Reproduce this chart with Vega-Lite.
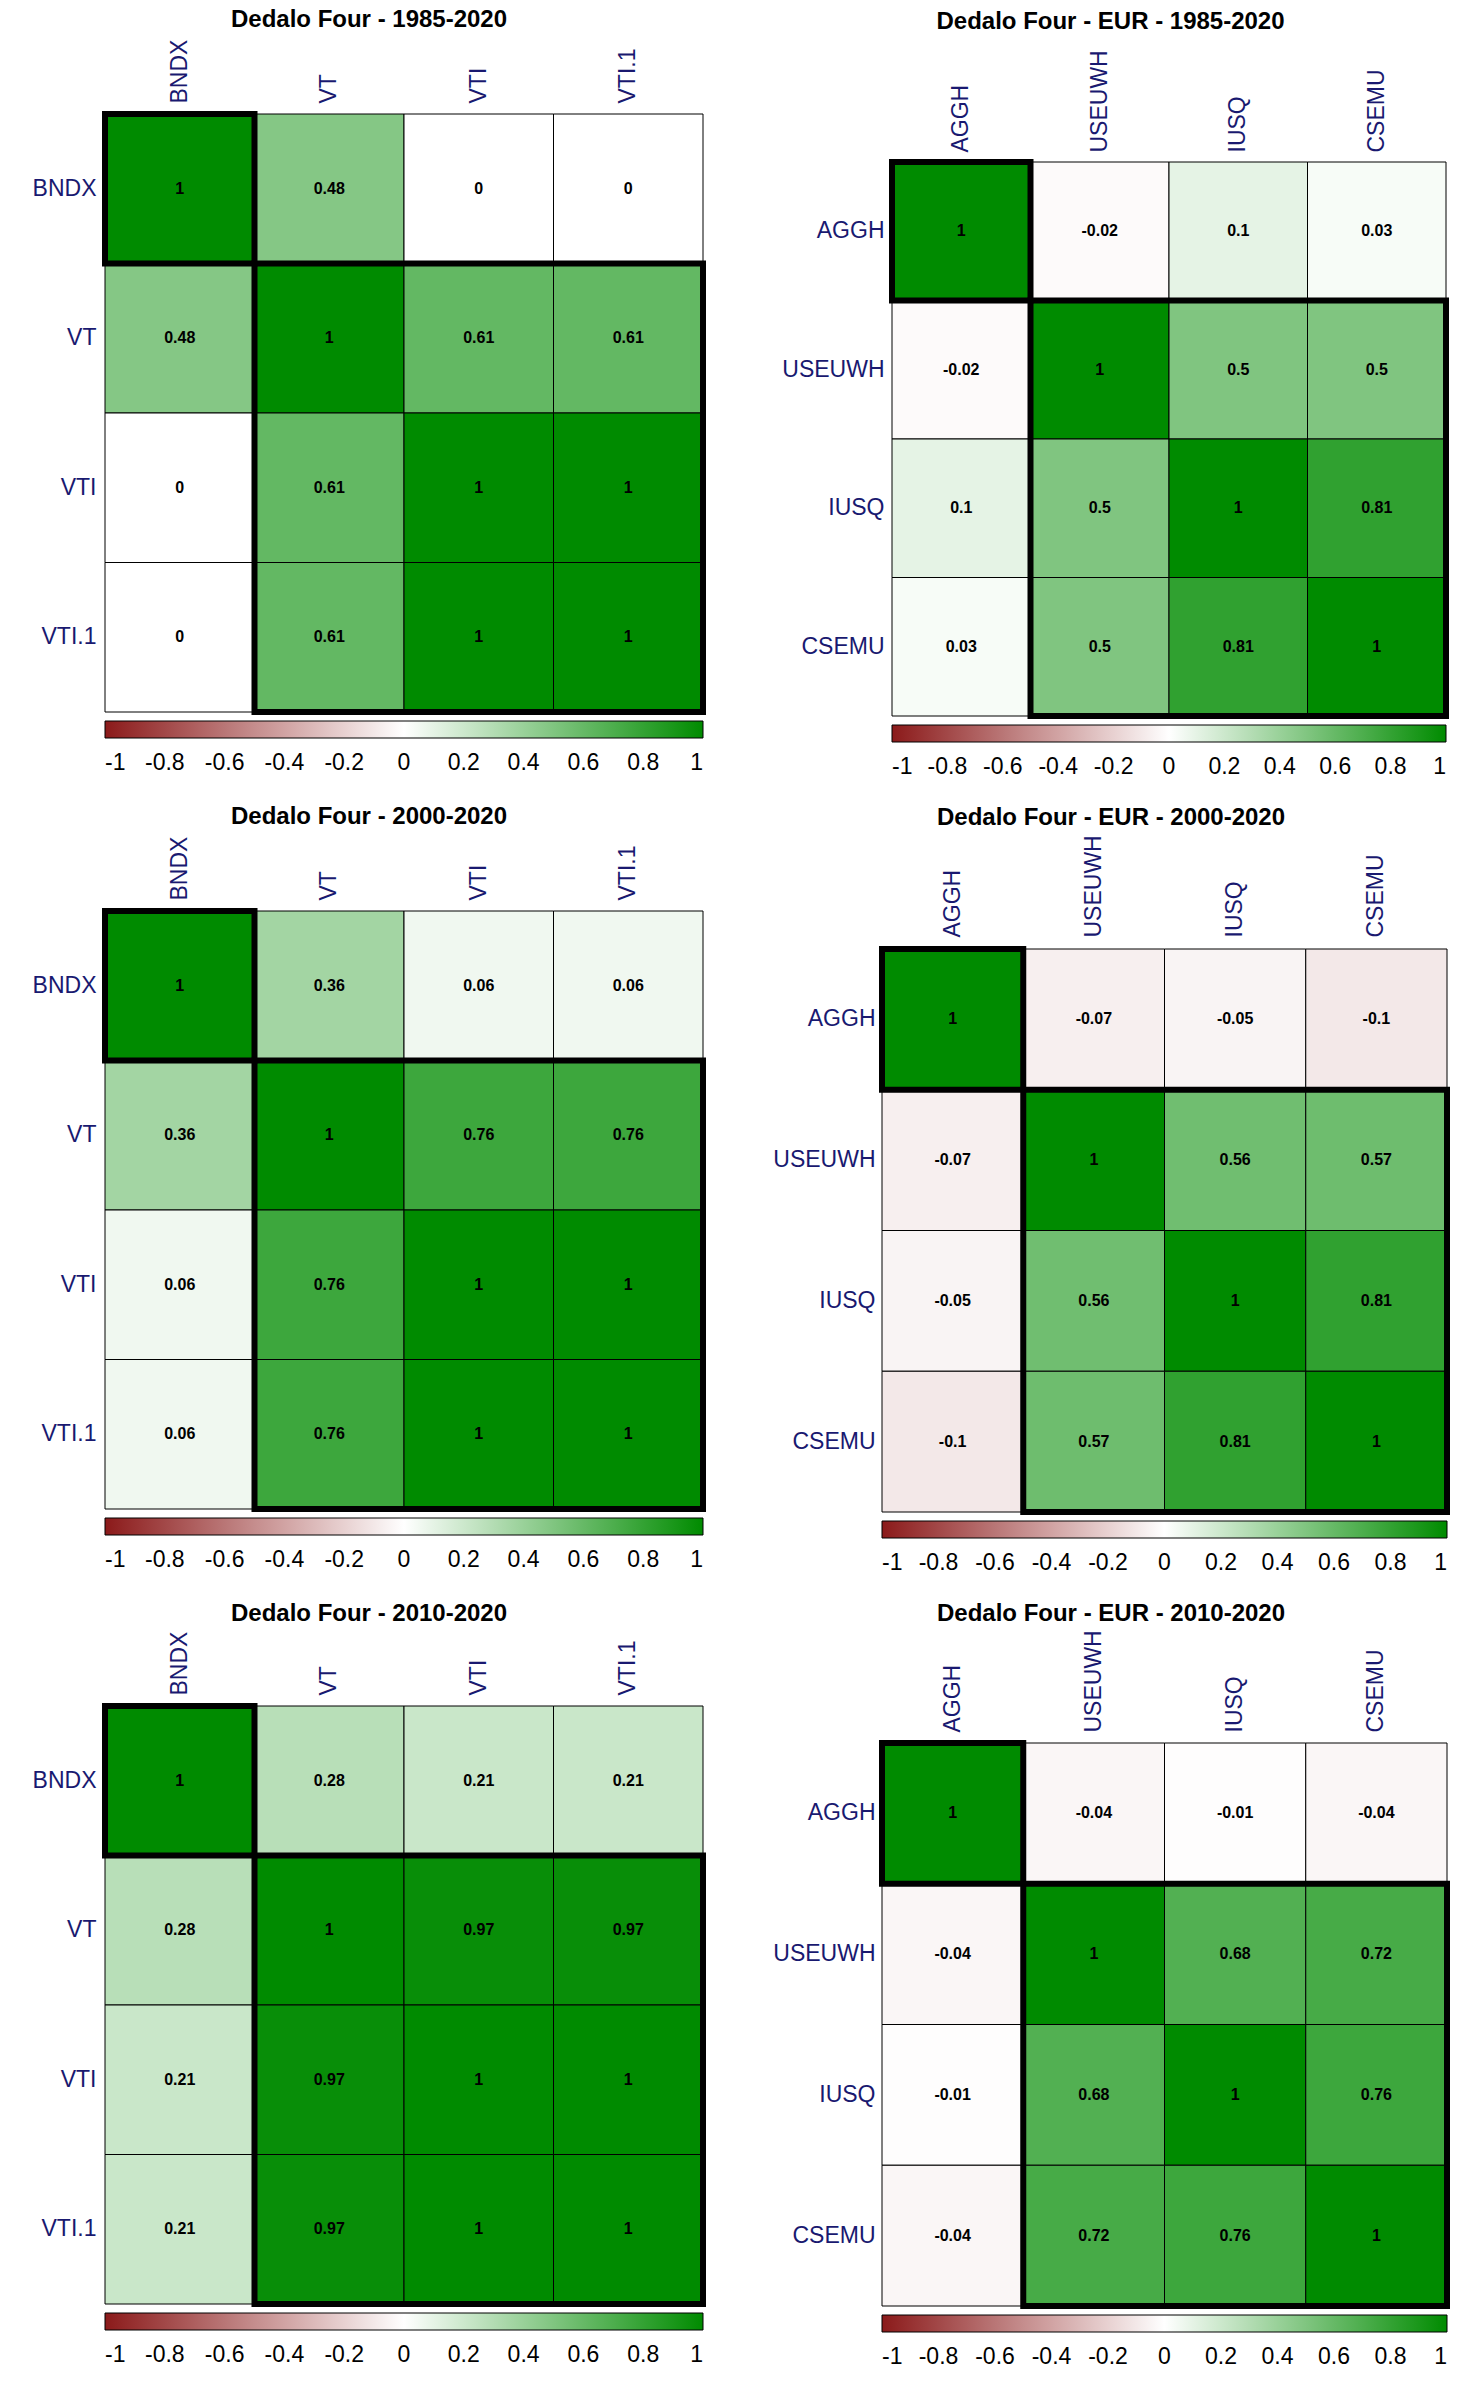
{
  "$schema": "https://vega.github.io/schema/vega-lite/v6.json",
  "padding": {"left": 32, "top": -23, "right": 5, "bottom": 5},
  "background": "white",
  "datasets": {
    "p1": [
      {"r": "BNDX", "c": "BNDX", "v": 1}, {"r": "BNDX", "c": "VT", "v": 0.48}, {"r": "BNDX", "c": "VTI", "v": 0}, {"r": "BNDX", "c": "VTI.1", "v": 0},
      {"r": "VT", "c": "BNDX", "v": 0.48}, {"r": "VT", "c": "VT", "v": 1}, {"r": "VT", "c": "VTI", "v": 0.61}, {"r": "VT", "c": "VTI.1", "v": 0.61},
      {"r": "VTI", "c": "BNDX", "v": 0}, {"r": "VTI", "c": "VT", "v": 0.61}, {"r": "VTI", "c": "VTI", "v": 1}, {"r": "VTI", "c": "VTI.1", "v": 1},
      {"r": "VTI.1", "c": "BNDX", "v": 0}, {"r": "VTI.1", "c": "VT", "v": 0.61}, {"r": "VTI.1", "c": "VTI", "v": 1}, {"r": "VTI.1", "c": "VTI.1", "v": 1}
    ],
    "p2": [
      {"r": "AGGH", "c": "AGGH", "v": 1}, {"r": "AGGH", "c": "USEUWH", "v": -0.02}, {"r": "AGGH", "c": "IUSQ", "v": 0.1}, {"r": "AGGH", "c": "CSEMU", "v": 0.03},
      {"r": "USEUWH", "c": "AGGH", "v": -0.02}, {"r": "USEUWH", "c": "USEUWH", "v": 1}, {"r": "USEUWH", "c": "IUSQ", "v": 0.5}, {"r": "USEUWH", "c": "CSEMU", "v": 0.5},
      {"r": "IUSQ", "c": "AGGH", "v": 0.1}, {"r": "IUSQ", "c": "USEUWH", "v": 0.5}, {"r": "IUSQ", "c": "IUSQ", "v": 1}, {"r": "IUSQ", "c": "CSEMU", "v": 0.81},
      {"r": "CSEMU", "c": "AGGH", "v": 0.03}, {"r": "CSEMU", "c": "USEUWH", "v": 0.5}, {"r": "CSEMU", "c": "IUSQ", "v": 0.81}, {"r": "CSEMU", "c": "CSEMU", "v": 1}
    ],
    "p3": [
      {"r": "BNDX", "c": "BNDX", "v": 1}, {"r": "BNDX", "c": "VT", "v": 0.36}, {"r": "BNDX", "c": "VTI", "v": 0.06}, {"r": "BNDX", "c": "VTI.1", "v": 0.06},
      {"r": "VT", "c": "BNDX", "v": 0.36}, {"r": "VT", "c": "VT", "v": 1}, {"r": "VT", "c": "VTI", "v": 0.76}, {"r": "VT", "c": "VTI.1", "v": 0.76},
      {"r": "VTI", "c": "BNDX", "v": 0.06}, {"r": "VTI", "c": "VT", "v": 0.76}, {"r": "VTI", "c": "VTI", "v": 1}, {"r": "VTI", "c": "VTI.1", "v": 1},
      {"r": "VTI.1", "c": "BNDX", "v": 0.06}, {"r": "VTI.1", "c": "VT", "v": 0.76}, {"r": "VTI.1", "c": "VTI", "v": 1}, {"r": "VTI.1", "c": "VTI.1", "v": 1}
    ],
    "p4": [
      {"r": "AGGH", "c": "AGGH", "v": 1}, {"r": "AGGH", "c": "USEUWH", "v": -0.07}, {"r": "AGGH", "c": "IUSQ", "v": -0.05}, {"r": "AGGH", "c": "CSEMU", "v": -0.1},
      {"r": "USEUWH", "c": "AGGH", "v": -0.07}, {"r": "USEUWH", "c": "USEUWH", "v": 1}, {"r": "USEUWH", "c": "IUSQ", "v": 0.56}, {"r": "USEUWH", "c": "CSEMU", "v": 0.57},
      {"r": "IUSQ", "c": "AGGH", "v": -0.05}, {"r": "IUSQ", "c": "USEUWH", "v": 0.56}, {"r": "IUSQ", "c": "IUSQ", "v": 1}, {"r": "IUSQ", "c": "CSEMU", "v": 0.81},
      {"r": "CSEMU", "c": "AGGH", "v": -0.1}, {"r": "CSEMU", "c": "USEUWH", "v": 0.57}, {"r": "CSEMU", "c": "IUSQ", "v": 0.81}, {"r": "CSEMU", "c": "CSEMU", "v": 1}
    ],
    "p5": [
      {"r": "BNDX", "c": "BNDX", "v": 1}, {"r": "BNDX", "c": "VT", "v": 0.28}, {"r": "BNDX", "c": "VTI", "v": 0.21}, {"r": "BNDX", "c": "VTI.1", "v": 0.21},
      {"r": "VT", "c": "BNDX", "v": 0.28}, {"r": "VT", "c": "VT", "v": 1}, {"r": "VT", "c": "VTI", "v": 0.97}, {"r": "VT", "c": "VTI.1", "v": 0.97},
      {"r": "VTI", "c": "BNDX", "v": 0.21}, {"r": "VTI", "c": "VT", "v": 0.97}, {"r": "VTI", "c": "VTI", "v": 1}, {"r": "VTI", "c": "VTI.1", "v": 1},
      {"r": "VTI.1", "c": "BNDX", "v": 0.21}, {"r": "VTI.1", "c": "VT", "v": 0.97}, {"r": "VTI.1", "c": "VTI", "v": 1}, {"r": "VTI.1", "c": "VTI.1", "v": 1}
    ],
    "p6": [
      {"r": "AGGH", "c": "AGGH", "v": 1}, {"r": "AGGH", "c": "USEUWH", "v": -0.04}, {"r": "AGGH", "c": "IUSQ", "v": -0.01}, {"r": "AGGH", "c": "CSEMU", "v": -0.04},
      {"r": "USEUWH", "c": "AGGH", "v": -0.04}, {"r": "USEUWH", "c": "USEUWH", "v": 1}, {"r": "USEUWH", "c": "IUSQ", "v": 0.68}, {"r": "USEUWH", "c": "CSEMU", "v": 0.72},
      {"r": "IUSQ", "c": "AGGH", "v": -0.01}, {"r": "IUSQ", "c": "USEUWH", "v": 0.68}, {"r": "IUSQ", "c": "IUSQ", "v": 1}, {"r": "IUSQ", "c": "CSEMU", "v": 0.76},
      {"r": "CSEMU", "c": "AGGH", "v": -0.04}, {"r": "CSEMU", "c": "USEUWH", "v": 0.72}, {"r": "CSEMU", "c": "IUSQ", "v": 0.76}, {"r": "CSEMU", "c": "CSEMU", "v": 1}
    ],
    "cl_us": [{"from": "BNDX", "to": "BNDX"}, {"from": "VT", "to": "VTI.1"}],
    "cl_eu": [{"from": "AGGH", "to": "AGGH"}, {"from": "USEUWH", "to": "CSEMU"}]
  },
  "spacing": 65,
  "resolve": {"scale": {"color": "independent"}, "legend": {"color": "independent"}},
  "hconcat": [
    {
      "spacing": 30,
      "resolve": {"scale": {"color": "independent"}, "legend": {"color": "independent"}},
      "vconcat": [
        {"width": 1, "height": 1, "data": {"values": []}, "mark": "point", "encoding": {}},
        {
          "width": 598, "height": 598,
          "title": {"text": "Dedalo Four - 1985-2020", "offset": 7},
          "data": {"name": "p1"},
          "layer": [
            {"mark": {"type": "rect", "stroke": "black", "strokeWidth": 1},
             "encoding": {
               "x": {"field": "c", "type": "nominal", "scale": {"domain": ["BNDX", "VT", "VTI", "VTI.1"], "paddingInner": 0, "paddingOuter": 0}, "axis": {"orient": "top", "labelAngle": -90, "labelAlign": "left", "labelBaseline": "middle", "labelPadding": 11, "title": null}},
               "y": {"field": "r", "type": "nominal", "scale": {"domain": ["BNDX", "VT", "VTI", "VTI.1"], "paddingInner": 0, "paddingOuter": 0}, "axis": {"labelPadding": 9, "minExtent": 73, "title": null}},
               "color": {"field": "v", "type": "quantitative", "scale": {"domain": [-1, 0, 1], "range": ["#8B1A1A", "#FFFFFF", "#008B00"], "interpolate": "rgb"},
                 "legend": {"gradientLength": 598, "values": [-1, -0.8, -0.6, -0.4, -0.2, 0, 0.2, 0.4, 0.6, 0.8, 1], "labelExpr": "toString(datum.value)", "labelAlign": "center", "labelOffset": 14}}
             }},
            {"mark": {"type": "text", "fontSize": 16, "fontWeight": "bold", "color": "black"},
             "encoding": {"x": {"field": "c", "type": "nominal", "axis": {"title": null}}, "y": {"field": "r", "type": "nominal", "axis": {"title": null}}, "text": {"field": "v", "type": "nominal"}}},
            {"data": {"name": "cl_us"}, "mark": {"type": "rect", "fill": "transparent", "stroke": "black", "strokeWidth": 6},
             "encoding": {"x": {"field": "from", "type": "nominal", "bandPosition": 0, "axis": {"title": null}}, "x2": {"field": "to", "bandPosition": 1}, "y": {"field": "from", "type": "nominal", "bandPosition": 0, "axis": {"title": null}}, "y2": {"field": "to", "bandPosition": 1}}}
          ]
        },
        {
          "width": 598, "height": 598,
          "title": {"text": "Dedalo Four - 2000-2020", "offset": 7},
          "data": {"name": "p3"},
          "layer": [
            {"mark": {"type": "rect", "stroke": "black", "strokeWidth": 1},
             "encoding": {
               "x": {"field": "c", "type": "nominal", "scale": {"domain": ["BNDX", "VT", "VTI", "VTI.1"], "paddingInner": 0, "paddingOuter": 0}, "axis": {"orient": "top", "labelAngle": -90, "labelAlign": "left", "labelBaseline": "middle", "labelPadding": 11, "title": null}},
               "y": {"field": "r", "type": "nominal", "scale": {"domain": ["BNDX", "VT", "VTI", "VTI.1"], "paddingInner": 0, "paddingOuter": 0}, "axis": {"labelPadding": 9, "minExtent": 73, "title": null}},
               "color": {"field": "v", "type": "quantitative", "scale": {"domain": [-1, 0, 1], "range": ["#8B1A1A", "#FFFFFF", "#008B00"], "interpolate": "rgb"},
                 "legend": {"gradientLength": 598, "values": [-1, -0.8, -0.6, -0.4, -0.2, 0, 0.2, 0.4, 0.6, 0.8, 1], "labelExpr": "toString(datum.value)", "labelAlign": "center", "labelOffset": 14}}
             }},
            {"mark": {"type": "text", "fontSize": 16, "fontWeight": "bold", "color": "black"},
             "encoding": {"x": {"field": "c", "type": "nominal", "axis": {"title": null}}, "y": {"field": "r", "type": "nominal", "axis": {"title": null}}, "text": {"field": "v", "type": "nominal"}}},
            {"data": {"name": "cl_us"}, "mark": {"type": "rect", "fill": "transparent", "stroke": "black", "strokeWidth": 6},
             "encoding": {"x": {"field": "from", "type": "nominal", "bandPosition": 0, "axis": {"title": null}}, "x2": {"field": "to", "bandPosition": 1}, "y": {"field": "from", "type": "nominal", "bandPosition": 0, "axis": {"title": null}}, "y2": {"field": "to", "bandPosition": 1}}}
          ]
        },
        {
          "width": 598, "height": 598,
          "title": {"text": "Dedalo Four - 2010-2020", "offset": 5},
          "data": {"name": "p5"},
          "layer": [
            {"mark": {"type": "rect", "stroke": "black", "strokeWidth": 1},
             "encoding": {
               "x": {"field": "c", "type": "nominal", "scale": {"domain": ["BNDX", "VT", "VTI", "VTI.1"], "paddingInner": 0, "paddingOuter": 0}, "axis": {"orient": "top", "labelAngle": -90, "labelAlign": "left", "labelBaseline": "middle", "labelPadding": 11, "title": null}},
               "y": {"field": "r", "type": "nominal", "scale": {"domain": ["BNDX", "VT", "VTI", "VTI.1"], "paddingInner": 0, "paddingOuter": 0}, "axis": {"labelPadding": 9, "minExtent": 73, "title": null}},
               "color": {"field": "v", "type": "quantitative", "scale": {"domain": [-1, 0, 1], "range": ["#8B1A1A", "#FFFFFF", "#008B00"], "interpolate": "rgb"},
                 "legend": {"gradientLength": 598, "values": [-1, -0.8, -0.6, -0.4, -0.2, 0, 0.2, 0.4, 0.6, 0.8, 1], "labelExpr": "toString(datum.value)", "labelAlign": "center", "labelOffset": 14}}
             }},
            {"mark": {"type": "text", "fontSize": 16, "fontWeight": "bold", "color": "black"},
             "encoding": {"x": {"field": "c", "type": "nominal", "axis": {"title": null}}, "y": {"field": "r", "type": "nominal", "axis": {"title": null}}, "text": {"field": "v", "type": "nominal"}}},
            {"data": {"name": "cl_us"}, "mark": {"type": "rect", "fill": "transparent", "stroke": "black", "strokeWidth": 6},
             "encoding": {"x": {"field": "from", "type": "nominal", "bandPosition": 0, "axis": {"title": null}}, "x2": {"field": "to", "bandPosition": 1}, "y": {"field": "from", "type": "nominal", "bandPosition": 0, "axis": {"title": null}}, "y2": {"field": "to", "bandPosition": 1}}}
          ]
        }
      ]
    },
    {
      "spacing": 26,
      "resolve": {"scale": {"color": "independent"}, "legend": {"color": "independent"}},
      "vconcat": [
        {"width": 1, "height": 6, "data": {"values": []}, "mark": "point", "encoding": {}},
        {
          "spacing": 0,
          "resolve": {"scale": {"color": "independent"}, "legend": {"color": "independent"}},
          "hconcat": [
            {"width": 1, "height": 1, "data": {"values": []}, "mark": "point", "encoding": {}},
            {
              "width": 554, "height": 554,
              "title": {"text": "Dedalo Four - EUR - 1985-2020", "offset": 16},
              "data": {"name": "p2"},
              "layer": [
                {"mark": {"type": "rect", "stroke": "black", "strokeWidth": 1},
                 "encoding": {
                   "x": {"field": "c", "type": "nominal", "scale": {"domain": ["AGGH", "USEUWH", "IUSQ", "CSEMU"], "paddingInner": 0, "paddingOuter": 0}, "axis": {"orient": "top", "labelAngle": -90, "labelAlign": "left", "labelBaseline": "middle", "labelPadding": 10, "title": null}},
                   "y": {"field": "r", "type": "nominal", "scale": {"domain": ["AGGH", "USEUWH", "IUSQ", "CSEMU"], "paddingInner": 0, "paddingOuter": 0}, "axis": {"labelPadding": 8, "minExtent": 120, "title": null}},
                   "color": {"field": "v", "type": "quantitative", "scale": {"domain": [-1, 0, 1], "range": ["#8B1A1A", "#FFFFFF", "#008B00"], "interpolate": "rgb"},
                     "legend": {"gradientLength": 554, "values": [-1, -0.8, -0.6, -0.4, -0.2, 0, 0.2, 0.4, 0.6, 0.8, 1], "labelExpr": "toString(datum.value)", "labelAlign": "center", "labelOffset": 14}}
                 }},
                {"mark": {"type": "text", "fontSize": 16, "fontWeight": "bold", "color": "black"},
                 "encoding": {"x": {"field": "c", "type": "nominal", "axis": {"title": null}}, "y": {"field": "r", "type": "nominal", "axis": {"title": null}}, "text": {"field": "v", "type": "nominal"}}},
                {"data": {"name": "cl_eu"}, "mark": {"type": "rect", "fill": "transparent", "stroke": "black", "strokeWidth": 6},
                 "encoding": {"x": {"field": "from", "type": "nominal", "bandPosition": 0, "axis": {"title": null}}, "x2": {"field": "to", "bandPosition": 1}, "y": {"field": "from", "type": "nominal", "bandPosition": 0, "axis": {"title": null}}, "y2": {"field": "to", "bandPosition": 1}}}
              ]
            }
          ]
        },
        {
          "spacing": 0,
          "resolve": {"scale": {"color": "independent"}, "legend": {"color": "independent"}},
          "hconcat": [
            {"width": 1, "height": 1, "data": {"values": []}, "mark": "point", "encoding": {}},
            {
              "width": 565, "height": 563,
              "title": {"text": "Dedalo Four - EUR - 2000-2020", "offset": 5},
              "data": {"name": "p4"},
              "layer": [
                {"mark": {"type": "rect", "stroke": "black", "strokeWidth": 1},
                 "encoding": {
                   "x": {"field": "c", "type": "nominal", "scale": {"domain": ["AGGH", "USEUWH", "IUSQ", "CSEMU"], "paddingInner": 0, "paddingOuter": 0}, "axis": {"orient": "top", "labelAngle": -90, "labelAlign": "left", "labelBaseline": "middle", "labelPadding": 12, "title": null}},
                   "y": {"field": "r", "type": "nominal", "scale": {"domain": ["AGGH", "USEUWH", "IUSQ", "CSEMU"], "paddingInner": 0, "paddingOuter": 0}, "axis": {"labelPadding": 7, "minExtent": 110, "title": null}},
                   "color": {"field": "v", "type": "quantitative", "scale": {"domain": [-1, 0, 1], "range": ["#8B1A1A", "#FFFFFF", "#008B00"], "interpolate": "rgb"},
                     "legend": {"gradientLength": 565, "values": [-1, -0.8, -0.6, -0.4, -0.2, 0, 0.2, 0.4, 0.6, 0.8, 1], "labelExpr": "toString(datum.value)", "labelAlign": "center", "labelOffset": 14}}
                 }},
                {"mark": {"type": "text", "fontSize": 16, "fontWeight": "bold", "color": "black"},
                 "encoding": {"x": {"field": "c", "type": "nominal", "axis": {"title": null}}, "y": {"field": "r", "type": "nominal", "axis": {"title": null}}, "text": {"field": "v", "type": "nominal"}}},
                {"data": {"name": "cl_eu"}, "mark": {"type": "rect", "fill": "transparent", "stroke": "black", "strokeWidth": 6},
                 "encoding": {"x": {"field": "from", "type": "nominal", "bandPosition": 0, "axis": {"title": null}}, "x2": {"field": "to", "bandPosition": 1}, "y": {"field": "from", "type": "nominal", "bandPosition": 0, "axis": {"title": null}}, "y2": {"field": "to", "bandPosition": 1}}}
              ]
            }
          ]
        },
        {
          "spacing": 0,
          "resolve": {"scale": {"color": "independent"}, "legend": {"color": "independent"}},
          "hconcat": [
            {"width": 1, "height": 1, "data": {"values": []}, "mark": "point", "encoding": {}},
            {
              "width": 565, "height": 563,
              "title": {"text": "Dedalo Four - EUR - 2010-2020", "offset": 4},
              "data": {"name": "p6"},
              "layer": [
                {"mark": {"type": "rect", "stroke": "black", "strokeWidth": 1},
                 "encoding": {
                   "x": {"field": "c", "type": "nominal", "scale": {"domain": ["AGGH", "USEUWH", "IUSQ", "CSEMU"], "paddingInner": 0, "paddingOuter": 0}, "axis": {"orient": "top", "labelAngle": -90, "labelAlign": "left", "labelBaseline": "middle", "labelPadding": 11, "title": null}},
                   "y": {"field": "r", "type": "nominal", "scale": {"domain": ["AGGH", "USEUWH", "IUSQ", "CSEMU"], "paddingInner": 0, "paddingOuter": 0}, "axis": {"labelPadding": 7, "minExtent": 110, "title": null}},
                   "color": {"field": "v", "type": "quantitative", "scale": {"domain": [-1, 0, 1], "range": ["#8B1A1A", "#FFFFFF", "#008B00"], "interpolate": "rgb"},
                     "legend": {"gradientLength": 565, "values": [-1, -0.8, -0.6, -0.4, -0.2, 0, 0.2, 0.4, 0.6, 0.8, 1], "labelExpr": "toString(datum.value)", "labelAlign": "center", "labelOffset": 14}}
                 }},
                {"mark": {"type": "text", "fontSize": 16, "fontWeight": "bold", "color": "black"},
                 "encoding": {"x": {"field": "c", "type": "nominal", "axis": {"title": null}}, "y": {"field": "r", "type": "nominal", "axis": {"title": null}}, "text": {"field": "v", "type": "nominal"}}},
                {"data": {"name": "cl_eu"}, "mark": {"type": "rect", "fill": "transparent", "stroke": "black", "strokeWidth": 6},
                 "encoding": {"x": {"field": "from", "type": "nominal", "bandPosition": 0, "axis": {"title": null}}, "x2": {"field": "to", "bandPosition": 1}, "y": {"field": "from", "type": "nominal", "bandPosition": 0, "axis": {"title": null}}, "y2": {"field": "to", "bandPosition": 1}}}
              ]
            }
          ]
        }
      ]
    }
  ],
  "config": {
    "font": "Liberation Sans",
    "view": {"stroke": null},
    "title": {"fontSize": 24, "fontWeight": "bold", "color": "black", "font": "Liberation Sans", "anchor": "middle", "frame": "bounds"},
    "axis": {"domain": false, "ticks": false, "grid": false, "labelFontSize": 23, "labelColor": "#191970", "labelFont": "Liberation Sans", "labelOverlap": false, "labelLimit": 300},
    "legend": {"orient": "bottom", "direction": "horizontal", "title": null, "offset": 9, "padding": 0, "gradientThickness": 17, "gradientStrokeColor": "black", "gradientStrokeWidth": 1, "labelFontSize": 23, "labelColor": "black", "labelFont": "Liberation Sans", "labelOverlap": false, "labelLimit": 200}
  }
}
